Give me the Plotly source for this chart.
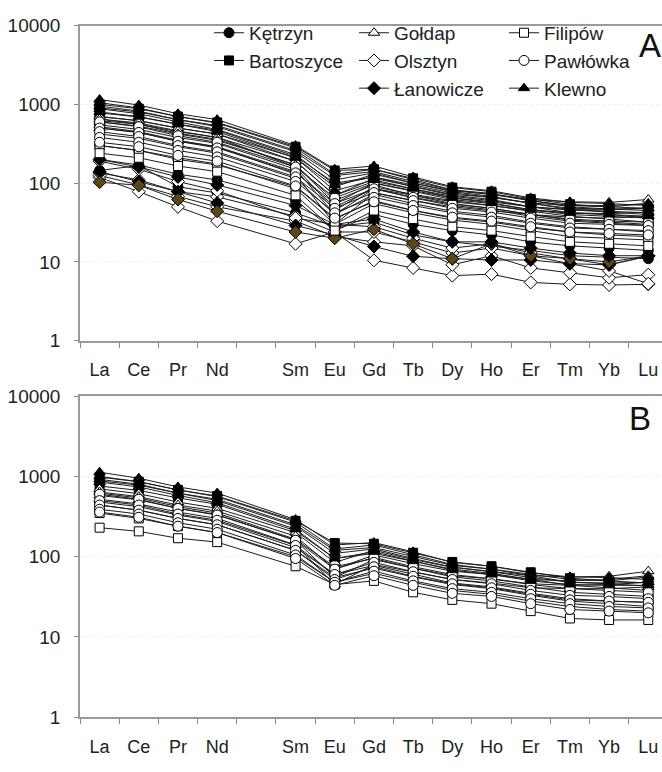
import plotly.graph_objects as go

# ---------------- data ----------------
REE = ["La", "Ce", "Pr", "Nd", "Sm", "Eu", "Gd", "Tb", "Dy", "Ho", "Er", "Tm", "Yb", "Lu"]
AXIS_CATEGORIES = ["La", "Ce", "Pr", "Nd", " ", "Sm", "Eu", "Gd", "Tb", "Dy", "Ho", "Er", "Tm", "Yb", "Lu"]
Y_TICKS = [1, 10, 100, 1000, 10000]
Y_TICK_LABELS = ["1", "10", "100", "1000", "10000"]

# Panel A (chondrite-normalised REE), samples per locality
A_ketrzyn = [
    [650, 560, 430, 360, 170, 60, 95, 70, 55, 48, 40, 34, 32, 30],
    [300, 260, 200, 170, 90, 35, 60, 45, 36, 32, 27, 24, 22, 21],
    [200, 170, 130, 110, 60, 25, 40, 30, 25, 22, 18, 16, 15, 14],
    [145, 167, 90, 75, 42, 28, 32, 22, 18, 16, 14, 12, 11.5, 11],
]
A_bartoszyce = [
    [1000, 880, 700, 590, 290, 145, 150, 115, 88, 78, 63, 54, 50, 48],
    [900, 800, 640, 540, 260, 125, 140, 105, 82, 74, 60, 50, 47, 45],
    [780, 690, 560, 470, 220, 100, 120, 95, 75, 66, 56, 46, 43, 40],
    [700, 620, 500, 420, 190, 70, 105, 85, 68, 60, 50, 42, 40, 36],
    [620, 560, 450, 380, 160, 45, 90, 72, 60, 52, 44, 38, 35, 32],
]
A_goldap = [
    [700, 620, 500, 420, 210, 90, 130, 100, 80, 72, 62, 58, 57, 62],
    [650, 580, 460, 380, 190, 70, 115, 90, 72, 66, 56, 52, 52, 55],
    [600, 530, 420, 350, 170, 55, 100, 80, 65, 58, 50, 46, 46, 48],
    [550, 480, 380, 320, 150, 40, 85, 70, 58, 52, 45, 42, 41, 43],
    [500, 440, 340, 290, 130, 30, 75, 60, 50, 45, 40, 37, 36, 38],
]
A_olsztyn = [
    [118, 78, 50, 33, 17, 24, 10.5, 8.4, 6.7, 7.0, 5.5, 5.2, 5.1, 5.2],
    [125, 95, 68, 50, 33, 21, 18, 16, 9.2, 12, 8.4, 7.3, 6.3, 6.9],
    [135, 110, 78, 67, 38, 24, 24, 18, 13, 15, 12, 9.5, 7.7, 5.3],
    [190, 150, 105, 80, 36, 30, 28, 20, 15, 17, 13, 11, 9.2, 12],
]
A_lanowicze = [
    [140, 105, 78, 56, 29, 22, 15.7, 11.8, 11, 10.6, 10.6, 9.5, 9.2, 11.8],
    [103, 94, 62, 44, 24, 20, 26, 17, 11, 17, 12, 11, 10, 12],
    [200, 160, 120, 95, 52, 30, 35, 24, 18, 18, 15, 13, 12, 12],
]
A_filipow = [
    [520, 450, 350, 290, 140, 50, 85, 65, 52, 46, 38, 33, 31, 29],
    [420, 370, 290, 240, 115, 40, 72, 55, 44, 39, 32, 28, 26, 24],
    [300, 260, 210, 175, 85, 30, 55, 42, 34, 30, 25, 21, 20, 19],
    [240, 210, 165, 140, 70, 25, 45, 35, 28, 25, 21, 18, 17, 16],
]
A_pawlowka = [
    [600, 520, 400, 330, 160, 65, 100, 78, 62, 55, 46, 40, 38, 36],
    [500, 440, 340, 280, 135, 55, 85, 66, 54, 48, 40, 35, 33, 32],
    [450, 390, 300, 250, 120, 48, 76, 60, 48, 43, 36, 31, 30, 29],
    [380, 330, 260, 215, 105, 42, 66, 52, 42, 37, 31, 27, 26, 25],
    [330, 290, 225, 190, 92, 36, 58, 45, 37, 33, 28, 24, 23, 22],
]
A_klewno = [
    [1150, 980, 760, 640, 300, 150, 165, 120, 90, 80, 65, 57, 55, 52],
    [1050, 900, 700, 580, 280, 130, 150, 110, 82, 72, 60, 52, 50, 55],
    [950, 820, 640, 520, 250, 110, 135, 100, 78, 68, 55, 48, 47, 48],
    [880, 760, 600, 480, 230, 95, 120, 90, 70, 62, 50, 46, 44, 42],
    [800, 700, 560, 450, 210, 80, 110, 85, 65, 56, 46, 42, 40, 38],
]

# Panel B
B_ketrzyn = [
    [620, 540, 420, 350, 165, 75, 95, 72, 56, 50, 42, 36, 34, 32],
    [480, 420, 330, 275, 130, 60, 78, 60, 47, 42, 35, 30, 28, 27],
]
B_bartoszyce = [
    [980, 860, 680, 570, 280, 148, 145, 112, 86, 76, 64, 54, 50, 47],
    [880, 780, 620, 520, 250, 120, 130, 100, 78, 70, 58, 48, 46, 43],
    [760, 670, 540, 450, 210, 95, 110, 88, 70, 62, 52, 44, 41, 38],
]
B_goldap = [
    [700, 610, 480, 400, 200, 85, 120, 92, 74, 66, 58, 56, 57, 66],
    [640, 560, 440, 370, 180, 70, 105, 82, 66, 60, 52, 50, 52, 58],
    [580, 510, 400, 335, 160, 55, 92, 72, 58, 53, 46, 44, 45, 48],
    [520, 455, 360, 300, 140, 45, 80, 64, 52, 47, 41, 40, 40, 42],
]
B_filipow = [
    [440, 380, 300, 250, 120, 55, 72, 56, 45, 40, 33, 28, 26, 24],
    [350, 300, 240, 200, 100, 48, 62, 48, 38, 34, 28, 24, 22, 21],
    [230, 207, 170, 152, 76, 45, 50, 36, 29, 26, 21, 17, 16.3, 16.3],
]
B_pawlowka = [
    [600, 520, 400, 330, 160, 70, 98, 75, 60, 53, 45, 40, 38, 36],
    [500, 440, 340, 285, 138, 60, 85, 65, 52, 46, 38, 33, 32, 30],
    [440, 380, 300, 250, 120, 52, 75, 57, 46, 41, 34, 29, 28, 27],
    [390, 340, 265, 220, 105, 48, 66, 50, 40, 36, 30, 26, 24, 23],
    [360, 310, 240, 200, 95, 44, 58, 44, 35, 32, 26, 22, 21, 20],
]
B_klewno = [
    [1130, 950, 740, 620, 290, 140, 150, 115, 85, 76, 63, 56, 55, 52],
    [1000, 860, 680, 560, 270, 125, 140, 105, 80, 70, 60, 52, 50, 56],
    [920, 800, 620, 500, 240, 110, 125, 95, 74, 65, 55, 48, 47, 48],
    [850, 740, 580, 470, 220, 95, 115, 88, 68, 60, 50, 45, 44, 44],
]

# ---------------- styling ----------------
STYLE = {
    "Kętrzyn": dict(symbol="circle", fill="black", legend="legend"),
    "Bartoszyce": dict(symbol="square", fill="black", legend="legend"),
    "Gołdap": dict(symbol="triangle-up", fill="white", legend="legend2"),
    "Olsztyn": dict(symbol="diamond", fill="white", legend="legend2"),
    "Łanowicze": dict(symbol="diamond", fill="black", legend="legend2"),
    "Filipów": dict(symbol="square", fill="white", legend="legend3"),
    "Pawłówka": dict(symbol="circle", fill="white", legend="legend3"),
    "Klewno": dict(symbol="triangle-up", fill="black", legend="legend3"),
}
FILL_OVERRIDE = {("A", "Łanowicze", 1): "#5b4712"}
SIZES = {"circle": 10, "square": 9, "triangle-up": 10, "diamond": 10}

panel_A = [("Kętrzyn", A_ketrzyn), ("Bartoszyce", A_bartoszyce), ("Gołdap", A_goldap),
           ("Olsztyn", A_olsztyn), ("Łanowicze", A_lanowicze), ("Filipów", A_filipow),
           ("Pawłówka", A_pawlowka), ("Klewno", A_klewno)]
panel_B = [("Kętrzyn", B_ketrzyn), ("Bartoszyce", B_bartoszyce), ("Gołdap", B_goldap),
           ("Filipów", B_filipow), ("Pawłówka", B_pawlowka), ("Klewno", B_klewno)]

fig = go.Figure()

def add_panel(tag, panel, xa, ya, with_legend):
    for name, samples in panel:
        st = STYLE[name]
        for i, vals in enumerate(samples):
            fill = FILL_OVERRIDE.get((tag, name, i), st["fill"])
            fig.add_trace(go.Scatter(
                x=REE, y=vals, mode="lines+markers", name=name,
                legendgroup=name, legend=st["legend"],
                showlegend=(with_legend and i == 0),
                line=dict(color="#1c1c1c", width=1),
                marker=dict(symbol=st["symbol"], size=SIZES[st["symbol"]],
                            color=fill, line=dict(color="black", width=1)),
                xaxis=xa, yaxis=ya, hoverinfo="skip"))

add_panel("A", panel_A, "x", "y", True)
add_panel("B", panel_B, "x2", "y2", False)

FONT = "Liberation Sans, Arial, sans-serif"
H = 772.0

def yrange(top_px, bottom_px):
    return [(H - bottom_px) / H, (H - top_px) / H]

xaxis_common = dict(
    type="category", categoryarray=AXIS_CATEGORIES, categoryorder="array",
    range=[-0.5, 14.35], tickson="boundaries", ticks="outside", ticklen=5,
    tickcolor="#888", showline=True, linecolor="#9a9a9a", linewidth=1.5, mirror=True,
    showgrid=False, zeroline=False, tickfont=dict(family=FONT, size=18, color="#222"),
    ticklabelstandoff=12,
)
yaxis_common = dict(
    type="log", range=[0, 4], tickvals=Y_TICKS, ticktext=Y_TICK_LABELS,
    ticks="outside", ticklen=4, tickcolor="#888", showline=True, linecolor="#9a9a9a",
    linewidth=1.5, showgrid=True, gridcolor="#eef0e2", griddash="dot", gridwidth=1,
    zeroline=False, tickfont=dict(family=FONT, size=19, color="#222"),
    ticklabelstandoff=10,
)

fig.update_layout(
    width=662, height=772, margin=dict(l=80, r=0, t=0, b=0),
    paper_bgcolor="white", plot_bgcolor="white",
    xaxis=dict(domain=[0, 1], anchor="y", **xaxis_common),
    yaxis=dict(domain=yrange(16, 340), anchor="x", **yaxis_common),
    xaxis2=dict(domain=[0, 1], anchor="y2", **xaxis_common),
    yaxis2=dict(domain=yrange(397, 727), anchor="x2", **yaxis_common),
    font=dict(family=FONT, color="#222"),
)

legend_common = dict(
    orientation="v", yanchor="top", xanchor="left", bgcolor="rgba(0,0,0,0)",
    borderwidth=0, font=dict(family=FONT, size=19, color="#222"),
    itemwidth=30, tracegroupgap=0, traceorder="grouped", itemclick=False,
)
fig.update_layout(
    legend=dict(x=(209 - 80) / 582, y=(H - 4) / H, **legend_common),
    legend2=dict(x=(354 - 80) / 582, y=(H - 4) / H, **legend_common),
    legend3=dict(x=(504 - 80) / 582, y=(H - 4) / H, **legend_common),
)

fig.add_annotation(text="A", xref="paper", yref="paper", x=(650 - 80) / 582, y=(H - 37) / H,
                   xanchor="center", yanchor="middle", showarrow=False,
                   font=dict(family=FONT, size=33, color="#111"))
fig.add_annotation(text="B", xref="paper", yref="paper", x=(640 - 80) / 582, y=(H - 420) / H,
                   xanchor="center", yanchor="middle", showarrow=False,
                   font=dict(family=FONT, size=33, color="#111"))

fig.write_html("out.html")
